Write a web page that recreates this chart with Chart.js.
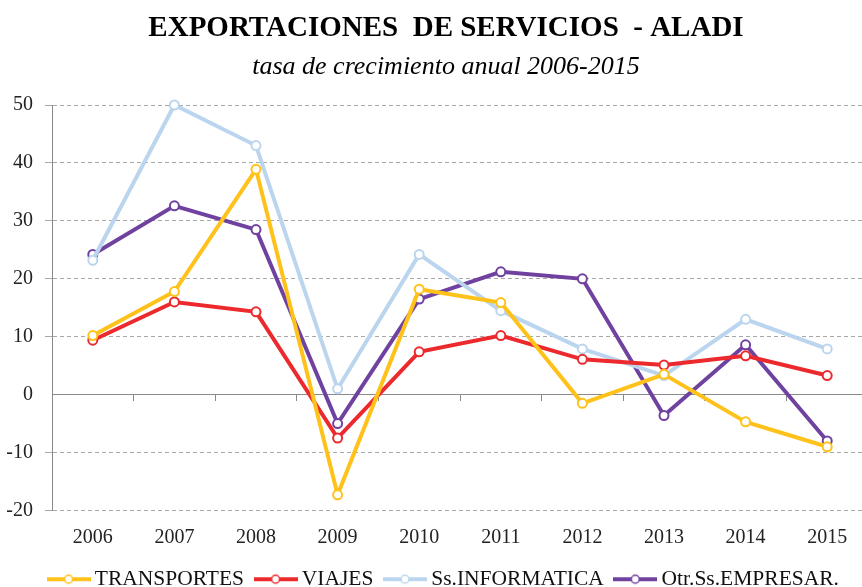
<!DOCTYPE html>
<html>
<head>
<meta charset="utf-8">
<script src="https://cdn.jsdelivr.net/npm/chart.js@4.4.1/dist/chart.umd.min.js"></script>
<style>
html, body { margin: 0; padding: 0; background: #fff; overflow: hidden; }
#wrap { width: 886px; height: 600px; }
</style>
</head>
<body>
<div id="wrap"><canvas id="exports"></canvas></div>
<script>
var years = ['2006', '2007', '2008', '2009', '2010', '2011', '2012', '2013', '2014', '2015'];
var transportes = [10.2, 17.8, 38.9, -17.3, 18.2, 15.9, -1.5, 3.5, -4.7, -9.0];
var viajes = [9.4, 16.0, 14.3, -7.5, 7.4, 10.2, 6.1, 5.1, 6.7, 3.3];
var informatica = [23.2, 50.0, 43.0, 1.0, 24.2, 14.5, 7.9, 3.3, 13.0, 7.9];
var empresariales = [24.2, 32.6, 28.5, -5.0, 16.5, 21.2, 20.0, -3.6, 8.6, -8.0];
var yMin = -20, yMax = 50, yStep = 10;

var serif = 'Liberation Serif';

// little line + circle picture for the legend
function legendIcon(color) {
    var c = document.createElement('canvas');
    c.width = 44; c.height = 12;
    var g = c.getContext('2d');
    g.strokeStyle = color;
    g.lineWidth = 4;
    g.beginPath(); g.moveTo(0, 6); g.lineTo(44, 6); g.stroke();
    g.beginPath(); g.arc(22, 6, 4, 0, Math.PI * 2);
    g.fillStyle = '#fff'; g.fill();
    g.lineWidth = 1.5; g.stroke();
    return c;
}

function serie(label, data, color) {
    return {
        label: label,
        data: data,
        borderColor: color,
        backgroundColor: color,
        borderWidth: 4,
        pointRadius: 4.5,
        pointBorderWidth: 2,
        pointBackgroundColor: '#fff',
        pointBorderColor: color,
        tension: 0,
        clip: false,
        icon: legendIcon(color)
    };
}

var ctx = document.getElementById('exports').getContext('2d');
var chart = new Chart(ctx, {
    type: 'line',
    data: {
        labels: years,
        datasets: [
            serie('TRANSPORTES', transportes, '#FFC21A'),
            serie('VIAJES', viajes, '#EC2A2E'),
            serie('Ss.INFORMATICA', informatica, '#BCD5EE'),
            serie('Otr.Ss.EMPRESAR.', empresariales, '#7042A0')
        ]
    },
    options: {
        responsive: true,
        maintainAspectRatio: false,
        animation: false,
        layout: { padding: { left: 6, right: 0 } },
        scales: {
            x: {
                type: 'category',
                offset: true,
                grid: { display: false, drawTicks: false },
                border: { display: false },
                ticks: { color: '#222', padding: 15, font: { family: serif, size: 20 } },
                afterFit: function (s) { s.height = s.height - 12; }
            },
            x2: {
                type: 'category',
                labels: years,
                position: { y: 0 },
                offset: true,
                grid: { offset: true, drawOnChartArea: false, drawTicks: true, tickLength: 6, color: '#8a8a8a' },
                border: { display: true, color: '#8a8a8a', width: 1 },
                ticks: { display: false }
            },
            y: {
                min: yMin,
                max: yMax,
                ticks: { stepSize: yStep, color: '#222', padding: 12, font: { family: serif, size: 20 } },
                grid: {
                    color: function (c) { return c.tick && c.tick.value === 0 ? 'rgba(0,0,0,0)' : '#a8a8a8'; },
                    tickLength: 7
                },
                border: { display: true, color: '#8a8a8a', dash: [4, 3] },
                afterFit: function (s) { s.width = 46; }
            },
            // empty right-hand strip, keeps the plot edge where the original had it
            yRight: {
                type: 'linear',
                position: 'right',
                grid: { display: false, drawTicks: false },
                border: { display: false },
                ticks: { display: false },
                afterFit: function (s) { s.width = 18; }
            }
        },
        plugins: {
            title: {
                display: true,
                text: 'EXPORTACIONES  DE SERVICIOS  - ALADI',
                color: '#000',
                font: { family: serif, size: 29, weight: 'bold' },
                padding: { top: 11, bottom: 0 }
            },
            subtitle: {
                display: true,
                text: 'tasa de crecimiento anual 2006-2015',
                color: '#000',
                font: { family: serif, size: 26, style: 'italic' },
                padding: { top: 5.6, bottom: 22.4 }
            },
            legend: {
                position: 'bottom',
                labels: {
                    usePointStyle: true,
                    pointStyleWidth: 31,
                    padding: 16,
                    color: '#111',
                    font: { family: serif, size: 21.5 },
                    generateLabels: function (ch) {
                        return ch.data.datasets.map(function (ds, i) {
                            return {
                                text: ds.label,
                                pointStyle: ds.icon,
                                fillStyle: ds.borderColor,
                                strokeStyle: ds.borderColor,
                                lineWidth: 0,
                                fontColor: '#111',
                                datasetIndex: i
                            };
                        });
                    }
                }
            },
            tooltip: { enabled: false }
        }
    }
});
</script>
</body>
</html>
